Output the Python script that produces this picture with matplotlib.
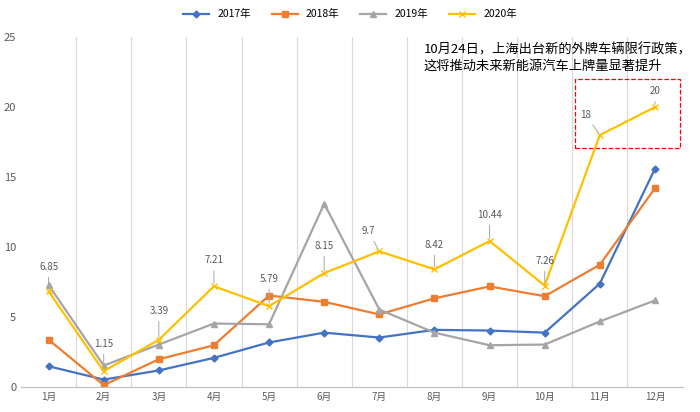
import matplotlib
matplotlib.use("Agg")
import matplotlib.pyplot as plt
from matplotlib.patches import Rectangle
plt.rcParams['font.family'] = 'sans-serif'
plt.rcParams['font.sans-serif'] = ['Noto Sans CJK SC', 'Noto Sans CJK JP', 'Noto Sans CJK TC', 'DejaVu Sans']

months = ["1月","2月","3月","4月","5月","6月","7月","8月","9月","10月","11月","12月"]
s2017 = [1.5,0.55,1.2,2.1,3.2,3.9,3.55,4.1,4.05,3.9,7.4,15.6]
s2018 = [3.4,0.15,2.0,3.0,6.55,6.1,5.2,6.35,7.2,6.5,8.75,14.2]
s2019 = [7.3,1.55,3.05,4.55,4.5,13.1,5.55,3.9,3.0,3.05,4.7,6.2]
s2020 = [6.85,1.15,3.39,7.21,5.79,8.15,9.7,8.42,10.44,7.26,18,20]
labels2020 = ["6.85","1.15","3.39","7.21","5.79","8.15","9.7","8.42","10.44","7.26","18","20"]

fig = plt.figure(figsize=(7,4.12), dpi=100)
ax = fig.add_axes([0.03, 0.06, 0.945, 0.85])
x = list(range(12))
ax.plot(x, s2017, color="#4472C4", marker="D", ms=3.5, lw=1.6, label="2017年")
ax.plot(x, s2018, color="#ED7D31", marker="s", ms=4, lw=1.6, label="2018年")
ax.plot(x, s2019, color="#A5A5A5", marker="^", ms=4.5, lw=1.6, label="2019年")
ax.plot(x, s2020, color="#FFC000", marker="x", ms=5, lw=1.6, label="2020年")
offs = [(0,1.4),(0,1.6),(0,1.7),(0,1.5),(0,1.6),(0,1.6),(-0.2,1.1),(0,1.4),(0,1.5),(0,1.4),(-0.25,1.1),(0,0.8)]
for i,(v,l) in enumerate(zip(s2020,labels2020)):
    dx,dy = offs[i]
    ax.annotate(l, (i,v), xytext=(i+dx, v+dy), ha="center", va="bottom", fontsize=7, color="#595959",
                arrowprops=dict(arrowstyle="-", color="#A6A6A6", lw=0.7))
ax.set_xlim(-0.5, 11.5)
ax.set_ylim(0, 25)
ax.set_xticks(x)
ax.set_xticklabels(months, fontsize=7, color="#595959")
ax.set_yticks(range(0,26,5))
ax.tick_params(axis="y", labelsize=8, colors="#595959", length=0)
ax.tick_params(axis="x", length=0)
for b in [i+0.5 for i in range(11)]:
    ax.axvline(b, color="#D9D9D9", lw=0.8, zorder=0)
for s in ["top","right","left"]:
    ax.spines[s].set_visible(False)
ax.spines["bottom"].set_color("#BFBFBF")
ax.text(6.8, 23.5, "10月24日，上海出台新的外牌车辆限行政策，\n这将推动未来新能源汽车上牌量显著提升",
        fontsize=9.5, va="center", ha="left", color="#000000", linespacing=1.3)
ax.add_patch(Rectangle((9.55, 17.1), 1.9, 4.9, fill=False, ec="red", ls="--", lw=0.9))
fig.legend(loc="upper center", ncol=4, fontsize=7.5, frameon=False, bbox_to_anchor=(0.5, 1.0),
           handlelength=2.5)
fig.savefig("out.png")
